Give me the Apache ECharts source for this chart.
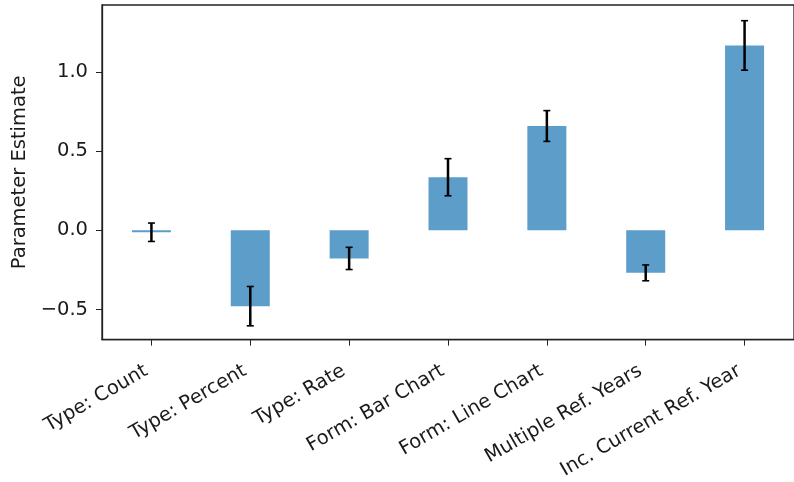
<!DOCTYPE html>
<html>
<head>
<meta charset="utf-8">
<script src="https://cdn.jsdelivr.net/npm/echarts@6/dist/echarts.min.js"></script>
<style>
html,body{margin:0;padding:0;background:#fff;}
#chart{width:794px;height:482px;}
</style>
</head>
<body>
<div id="chart"></div>
<script>
const categories = ["Type: Count", "Type: Percent", "Type: Rate", "Form: Bar Chart", "Form: Line Chart", "Multiple Ref. Years", "Inc. Current Ref. Year"];
const estimates = [-0.012, -0.478, -0.177, 0.335, 0.658, -0.268, 1.166];
const errors = [0.058, 0.124, 0.070, 0.117, 0.097, 0.050, 0.156];
const yTicks = [-0.5, 0.0, 0.5, 1.0];
const yLabel = "Parameter Estimate";

const errData = categories.map((c, i) => [i, estimates[i] - errors[i], estimates[i] + errors[i]]);
const FONT = "DejaVu Sans";

const chart = echarts.init(document.getElementById('chart'), null, {renderer: 'canvas'});
chart.setOption({
  animation: false,
  backgroundColor: '#fff',
  grid: {
    left: 102, top: 5, bottom: 138, right: -4,
    show: true, borderColor: '#222', borderWidth: 1.3, backgroundColor: 'transparent',
    containLabel: false
  },
  xAxis: {
    type: 'category',
    data: categories,
    boundaryGap: true,
    axisLine: {show: true, onZero: false, lineStyle: {color: '#222', width: 1.3}},
    axisTick: {show: true, alignWithLabel: true, length: 6, lineStyle: {color: '#222', width: 1}},
    axisLabel: {
      interval: 0, rotate: 30, margin: 27, color: '#1a1a1a',
      fontFamily: FONT, fontSize: 19.5, padding: [0, 6, 0, 0]
    },
    splitLine: {show: false}
  },
  yAxis: {
    type: 'value',
    min: -0.689, max: 1.421,
    name: yLabel,
    nameLocation: 'middle',
    nameGap: 72,
    nameTextStyle: {fontFamily: FONT, fontSize: 19.5, color: '#1a1a1a'},
    axisLine: {show: true, lineStyle: {color: '#222', width: 1.3}},
    axisTick: {show: true, length: 6, customValues: yTicks, lineStyle: {color: '#222', width: 1}},
    axisLabel: {
      customValues: yTicks, margin: 14, color: '#1a1a1a', fontFamily: FONT, fontSize: 19.5,
      formatter: v => (v < 0 ? '\u2212' : '') + Math.abs(v).toFixed(1)
    },
    splitLine: {show: false}
  },
  series: [
    {
      type: 'bar',
      data: estimates,
      barWidth: 39,
      itemStyle: {color: 'rgba(31,119,180,0.72)'},
      z: 2
    },
    {
      type: 'custom',
      data: errData,
      z: 5,
      renderItem: function (params, api) {
        const x = api.coord([api.value(0), 0])[0];
        const lo = api.coord([api.value(0), api.value(1)])[1];
        const hi = api.coord([api.value(0), api.value(2)])[1];
        const cap = 3.5;
        const st = {stroke: '#000', lineWidth: 2.5};
        const stc = {stroke: '#000', lineWidth: 1.6};
        return {
          type: 'group',
          children: [
            {type: 'line', shape: {x1: x, y1: lo, x2: x, y2: hi}, style: st},
            {type: 'line', shape: {x1: x - cap, y1: lo, x2: x + cap, y2: lo}, style: stc},
            {type: 'line', shape: {x1: x - cap, y1: hi, x2: x + cap, y2: hi}, style: stc}
          ]
        };
      }
    }
  ]
});
</script>
</body>
</html>
